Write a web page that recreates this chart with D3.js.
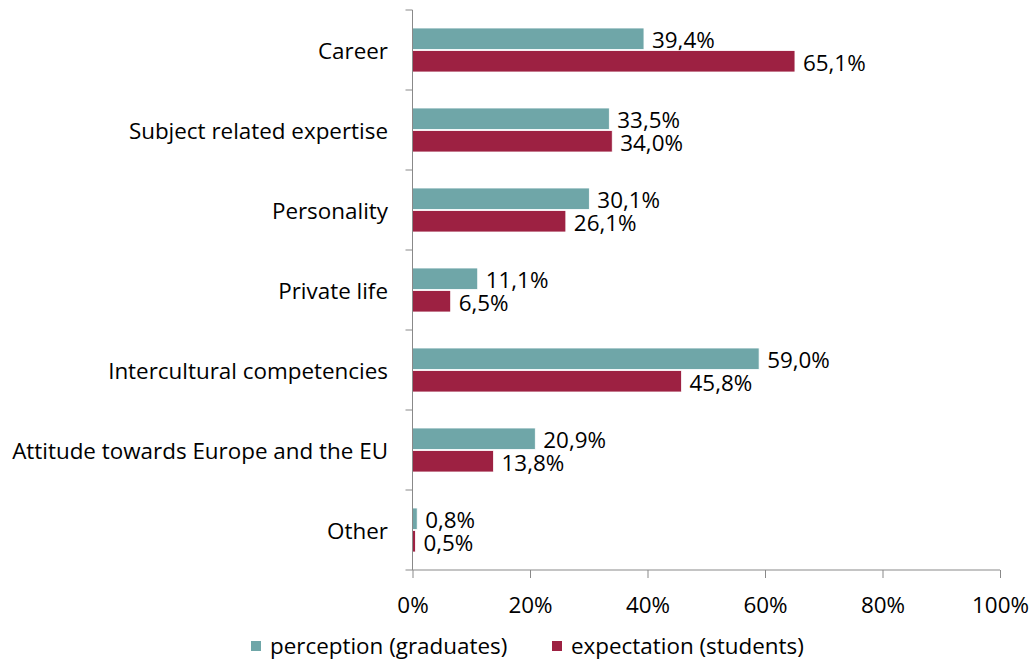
<!DOCTYPE html>
<html>
<head>
<meta charset="utf-8">
<script src="https://cdn.jsdelivr.net/npm/d3@7"></script>
<style>
  html, body { margin: 0; padding: 0; background: #fff; }
  svg { display: block; }
  text { font-family: "Open Sans", Lato, sans-serif; fill: #000; }
</style>
</head>
<body>
<svg id="chart" width="1031" height="659"></svg>
<script>
const categories = ["Career", "Subject related expertise", "Personality", "Private life",
  "Intercultural competencies", "Attitude towards Europe and the EU", "Other"];
const seriesNames = ["perception (graduates)", "expectation (students)"];
const graduates = [39.4, 33.5, 30.1, 11.1, 59.0, 20.9, 0.8];
const students  = [65.1, 34.0, 26.1, 6.5, 45.8, 13.8, 0.5];
const xTicks = [0, 20, 40, 60, 80, 100];
const colors = ["#6fa6a8", "#9d2142"];

const svg = d3.select("#chart");

// fit font size so that the longest category label has the reference width
const probe = svg.append("text").style("font-size", "20px").text(categories[5]);
const fontSize = 20 * 376 / probe.node().getComputedTextLength();
probe.remove();

const x = d3.scaleLinear().domain([0, 100]).range([412.5, 1000]);
const y = d3.scaleBand().domain(categories).range([10, 570]).padding(0);
const inner = d3.scaleBand().domain(seriesNames)
  .range([y.bandwidth() * 0.225, y.bandwidth() * 0.775]).paddingInner(0.05);

const fmt = v => v.toFixed(1).replace(".", ",") + "%";
const seriesData = [graduates, students];

// bars
seriesNames.forEach((s, si) => {
  const g = svg.append("g");
  g.selectAll("rect").data(categories).join("rect")
    .attr("x", x(0))
    .attr("y", c => y(c) + inner(s))
    .attr("width", (c, i) => x(seriesData[si][i]) - x(0))
    .attr("height", inner.bandwidth())
    .attr("fill", colors[si])
    .attr("stroke", "#fff")
    .attr("stroke-width", 0.8);
  g.selectAll("text").data(categories).join("text")
    .attr("x", (c, i) => x(seriesData[si][i]) + 8)
    .attr("y", c => y(c) + inner(s) + inner.bandwidth() / 2 + 1)
    .attr("dominant-baseline", "central")
    .style("font-size", fontSize + "px")
    .text((c, i) => fmt(seriesData[si][i]));
});

// y axis
const yAxis = svg.append("g").attr("transform", `translate(${x(0)},0)`);
yAxis.append("line").attr("x1", 0).attr("x2", 0).attr("y1", 10).attr("y2", 570)
  .attr("stroke", "#898989").attr("stroke-width", 1);
const yTickPos = categories.map(c => y(c)).concat([y.range()[1]]);
yAxis.selectAll("line.tick").data(yTickPos).join("line").attr("class", "tick")
  .attr("x1", -7).attr("x2", 0).attr("y1", d => d).attr("y2", d => d)
  .attr("stroke", "#898989");
svg.append("g").selectAll("text").data(categories).join("text")
  .attr("x", 388)
  .attr("y", c => y(c) + y.bandwidth() / 2)
  .attr("text-anchor", "end")
  .attr("dominant-baseline", "central")
  .style("font-size", fontSize + "px")
  .text(c => c);

// x axis
const xAxis = d3.axisBottom(x).tickValues(xTicks).tickSize(8).tickFormat(d => d + "%");
const xg = svg.append("g").attr("transform", "translate(0,570)").call(xAxis);
xg.select(".domain").attr("stroke", "#898989").attr("d", `M${x(0)},0H${x(100)}`);
xg.selectAll(".tick line").attr("stroke", "#898989");
xg.selectAll(".tick text").attr("y", 34).attr("dy", null)
  .attr("dominant-baseline", "central")
  .style("font-size", fontSize + "px").style("font-family", "'Open Sans', sans-serif").attr("fill", "#000");

// legend
const legendItems = [{ name: seriesNames[0], color: colors[0], x: 251 },
                     { name: seriesNames[1], color: colors[1], x: 552 }];
const lg = svg.append("g");
legendItems.forEach(d => {
  lg.append("rect").attr("x", d.x).attr("y", 641).attr("width", 10).attr("height", 10).attr("fill", d.color);
  lg.append("text").attr("x", d.x + 19).attr("y", 645).attr("dominant-baseline", "central")
    .style("font-size", fontSize + "px").text(d.name);
});
</script>
</body>
</html>
